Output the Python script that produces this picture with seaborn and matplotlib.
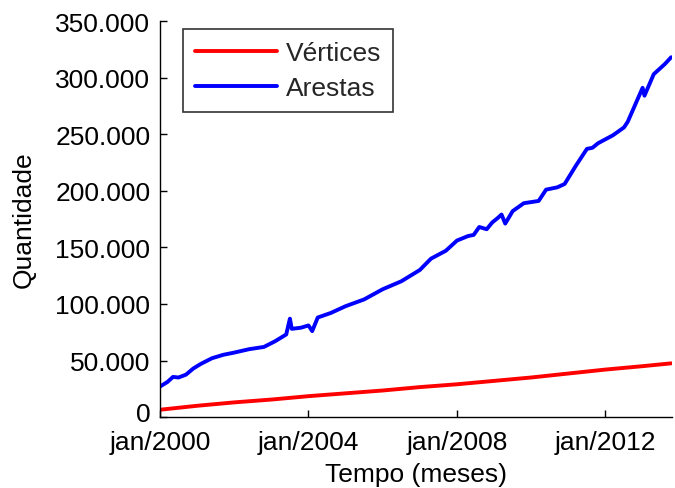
import matplotlib
matplotlib.use("Agg")
import matplotlib.pyplot as plt
import matplotlib.transforms as mtransforms
import seaborn as sns
import pandas as pd
from matplotlib.ticker import FuncFormatter, FixedLocator

# Data (decimal years -> counts)
arestas_t = [2000.0, 2000.2, 2000.35, 2000.5, 2000.7, 2000.9, 2001.1, 2001.4, 2001.7, 2002.0,
             2002.4, 2002.8, 2003.1, 2003.4, 2003.5, 2003.55, 2003.8, 2004.0, 2004.1, 2004.25,
             2004.6, 2005.0, 2005.5, 2006.0, 2006.5, 2007.0, 2007.3, 2007.7, 2008.0, 2008.3,
             2008.45, 2008.6, 2008.8, 2008.95, 2009.1, 2009.2, 2009.3, 2009.5, 2009.8, 2010.0,
             2010.2, 2010.4, 2010.7, 2010.9, 2011.2, 2011.5, 2011.65, 2011.8, 2012.2, 2012.5,
             2012.6, 2012.8, 2013.0, 2013.05, 2013.3, 2013.6, 2013.77]
arestas_v = [27000, 31000, 35500, 35000, 37500, 43000, 47000, 52000, 55000, 57000,
             60000, 62000, 67000, 73000, 87000, 78000, 79000, 81000, 76000, 88000,
             92000, 98000, 104000, 113000, 120000, 130000, 140000, 147000, 156000, 160000,
             161000, 168000, 166000, 172000, 176000, 179000, 171000, 182000, 189000, 190000,
             191000, 201000, 203000, 206000, 222000, 237000, 238000, 242000, 249000, 256000,
             261000, 276000, 291000, 284000, 303000, 312000, 318000]

vertices_t = [2000.0, 2001.0, 2002.0, 2003.0, 2004.0, 2005.0, 2006.0, 2007.0, 2008.0,
              2009.0, 2010.0, 2011.0, 2012.0, 2013.0, 2013.77]
vertices_v = [6500, 10000, 13000, 15500, 18500, 21000, 23500, 26500, 29000,
              32000, 35000, 38500, 42000, 45000, 47500]

x_ticks = [2000, 2004, 2008, 2012]
x_labels = ["jan/2000", "jan/2004", "jan/2008", "jan/2012"]
y_ticks = [0, 50000, 100000, 150000, 200000, 250000, 300000, 350000]

sns.set_theme(style="ticks")
plt.rcParams['font.family'] = ['Liberation Sans', 'DejaVu Sans']

df = pd.concat([
    pd.DataFrame({"t": vertices_t, "v": vertices_v, "serie": "Vértices"}),
    pd.DataFrame({"t": arestas_t, "v": arestas_v, "serie": "Arestas"}),
])

fig = plt.figure(figsize=(6.75, 4.89), dpi=100)
ax = fig.add_axes([0.237, 0.145, 0.759, 0.81])
sns.lineplot(data=df, x="t", y="v", hue="serie", palette={"Vértices": "#ff0000", "Arestas": "#0000ff"},
             linewidth=2.8, ax=ax, sort=False, estimator=None)

ax.set_xlim(2000, 2013.8)
ax.set_ylim(0, 350000)
ax.xaxis.set_major_locator(FixedLocator(x_ticks))
ax.set_xticklabels(x_labels)
ax.yaxis.set_major_locator(FixedLocator(y_ticks))
ax.yaxis.set_major_formatter(FuncFormatter(lambda v, p: f"{int(v):,}".replace(",", ".")))
ax.tick_params(direction="in", length=5, width=1, labelsize=19, colors="black")
ax.tick_params(axis="y", pad=7)
ax.tick_params(axis="x", pad=9)
for s in ["top", "right"]:
    ax.spines[s].set_visible(False)
for s in ["left", "bottom"]:
    ax.spines[s].set_color("black")
    ax.spines[s].set_linewidth(1.0)

# nudge the "0" label up a little, as in the reference
offset = mtransforms.ScaledTranslation(0, 4 / 72, fig.dpi_scale_trans)
ylabels = ax.get_yticklabels()
ylabels[0].set_transform(ylabels[0].get_transform() + offset)

ax.set_xlabel("Tempo (meses)", fontsize=19, color="black", labelpad=6)
ax.set_ylabel("Quantidade", fontsize=19, color="black", labelpad=14)

leg = ax.legend(loc="upper left", bbox_to_anchor=(0.045, 0.98), fontsize=19, frameon=True,
                fancybox=False, edgecolor="black", handlelength=3.1, borderaxespad=0,
                labelspacing=0.42, handletextpad=0.35, borderpad=0.45)
leg.get_frame().set_linewidth(1.2)
leg.set_title(None)

fig.savefig("out.png", dpi=100)
